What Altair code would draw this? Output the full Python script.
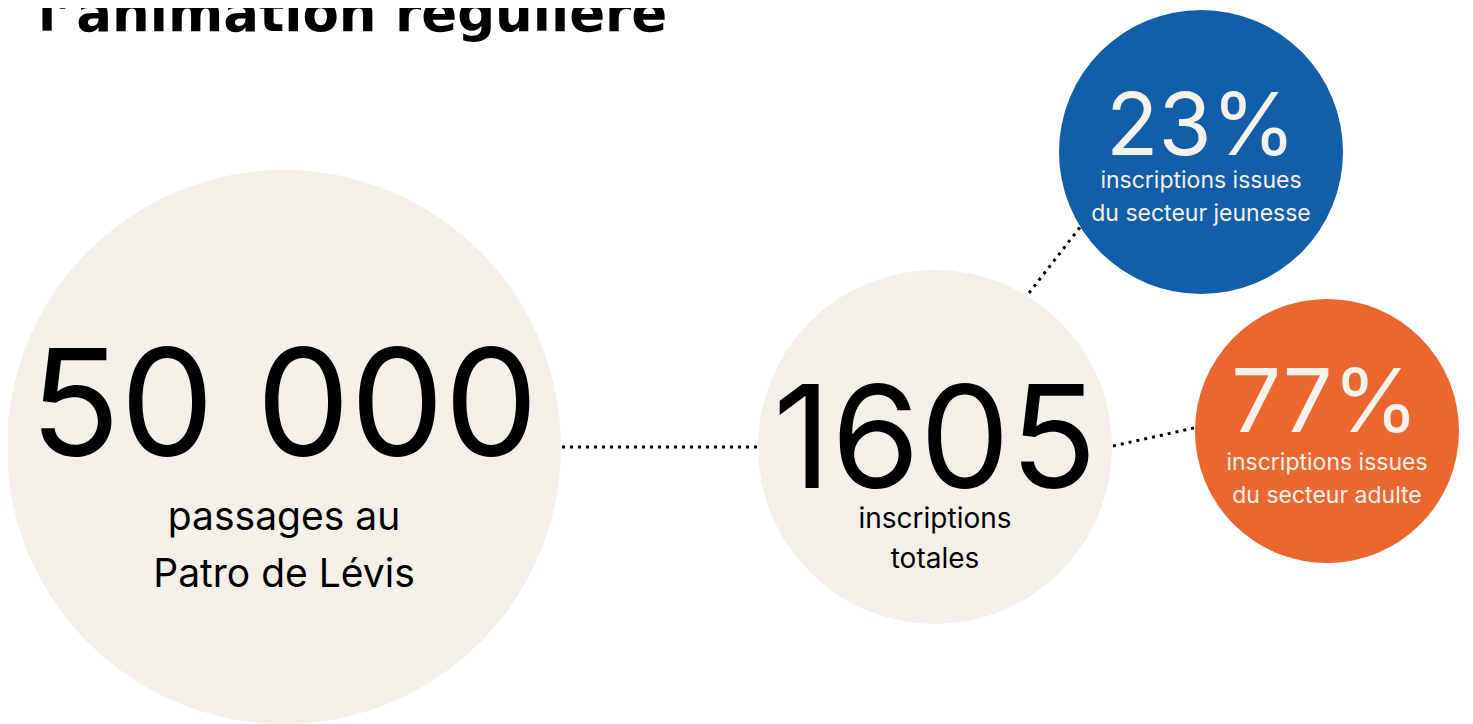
import altair as alt
import pandas as pd

# ---- data ----
values = ["50 000", "1605", "23%", "77%"]
caption_1 = ["passages au", "inscriptions", "inscriptions issues", "inscriptions issues"]
caption_2 = ["Patro de Lévis", "totales", "du secteur jeunesse", "du secteur adulte"]
title_text = "l’animation régulière"

# ---- layout (page pixels) ----
cx = [284, 935, 1201, 1327]
cy = [447, 447, 152, 431]
radius = [277, 177, 142, 132]
fills = ["#F3F0EA", "#F3F0EA", "#125EA8", "#EA6730"]
text_colors = ["#000000", "#000000", "#F5F1EB", "#F5F1EB"]
value_size = [149, 143, 86, 88]
value_base = [456, 488, 155, 432]
cap_size = [39, 28, 23, 23]
cap1_base = [530, 528, 188, 470]
cap2_base = [587, 568, 221, 503]

links_x = [562, 1029, 1113]
links_y = [447, 293, 446]
links_x2 = [757, 1081, 1194]
links_y2 = [447, 226, 428]

W, H = 1457, 716
xs = alt.Scale(domain=[8, 8 + W], range=[0, W])
ys = alt.Scale(domain=[8, 8 + H], range=[0, H])

circles = pd.DataFrame({"x": cx, "y": cy, "area": [(2 * r) ** 2 for r in radius], "fill": fills})
circle_layer = alt.Chart(circles).mark_circle(opacity=1, strokeWidth=0).encode(
    x=alt.X("x:Q", scale=xs, axis=None),
    y=alt.Y("y:Q", scale=ys, axis=None),
    size=alt.Size("area:Q", scale=None, legend=None),
    color=alt.Color("fill:N", scale=None, legend=None),
)

links = pd.DataFrame({"x": links_x, "y": links_y, "x2": links_x2, "y2": links_y2})
link_layer = alt.Chart(links).mark_rule(color="#000000", strokeWidth=3, strokeDash=[3, 5]).encode(
    x=alt.X("x:Q", scale=xs, axis=None),
    y=alt.Y("y:Q", scale=ys, axis=None),
    x2="x2:Q",
    y2="y2:Q",
)

rows = []
for i in range(len(values)):
    rows.append({"t": values[i], "x": cx[i] if i != 3 else cx[i] - 2, "y": value_base[i], "s": value_size[i], "c": text_colors[i]})
    rows.append({"t": caption_1[i], "x": cx[i], "y": cap1_base[i], "s": cap_size[i], "c": text_colors[i]})
    rows.append({"t": caption_2[i], "x": cx[i], "y": cap2_base[i], "s": cap_size[i], "c": text_colors[i]})
texts = pd.DataFrame(rows)
text_layer = alt.Chart(texts).mark_text(font="Inter", align="center", baseline="alphabetic").encode(
    x=alt.X("x:Q", scale=xs, axis=None),
    y=alt.Y("y:Q", scale=ys, axis=None),
    text="t:N",
    size=alt.Size("s:Q", scale=None, legend=None),
    color=alt.Color("c:N", scale=None, legend=None),
)

title_df = pd.DataFrame({"t": [title_text], "x": [38], "y": [31]})
title_layer = alt.Chart(title_df).mark_text(
    font="DejaVu Sans", fontWeight="bold", fontSize=53, align="left", baseline="alphabetic", color="#000000"
).encode(
    x=alt.X("x:Q", scale=xs, axis=None),
    y=alt.Y("y:Q", scale=ys, axis=None),
    text="t:N",
)

chart = alt.layer(circle_layer, link_layer, text_layer, title_layer).properties(
    width=W, height=H, padding=0, background="#FFFFFF", autosize=alt.AutoSizeParams(type="none")
).configure_view(strokeWidth=0, stroke="transparent")

chart.save("out.html", embed_options={"renderer": "svg", "actions": False})
